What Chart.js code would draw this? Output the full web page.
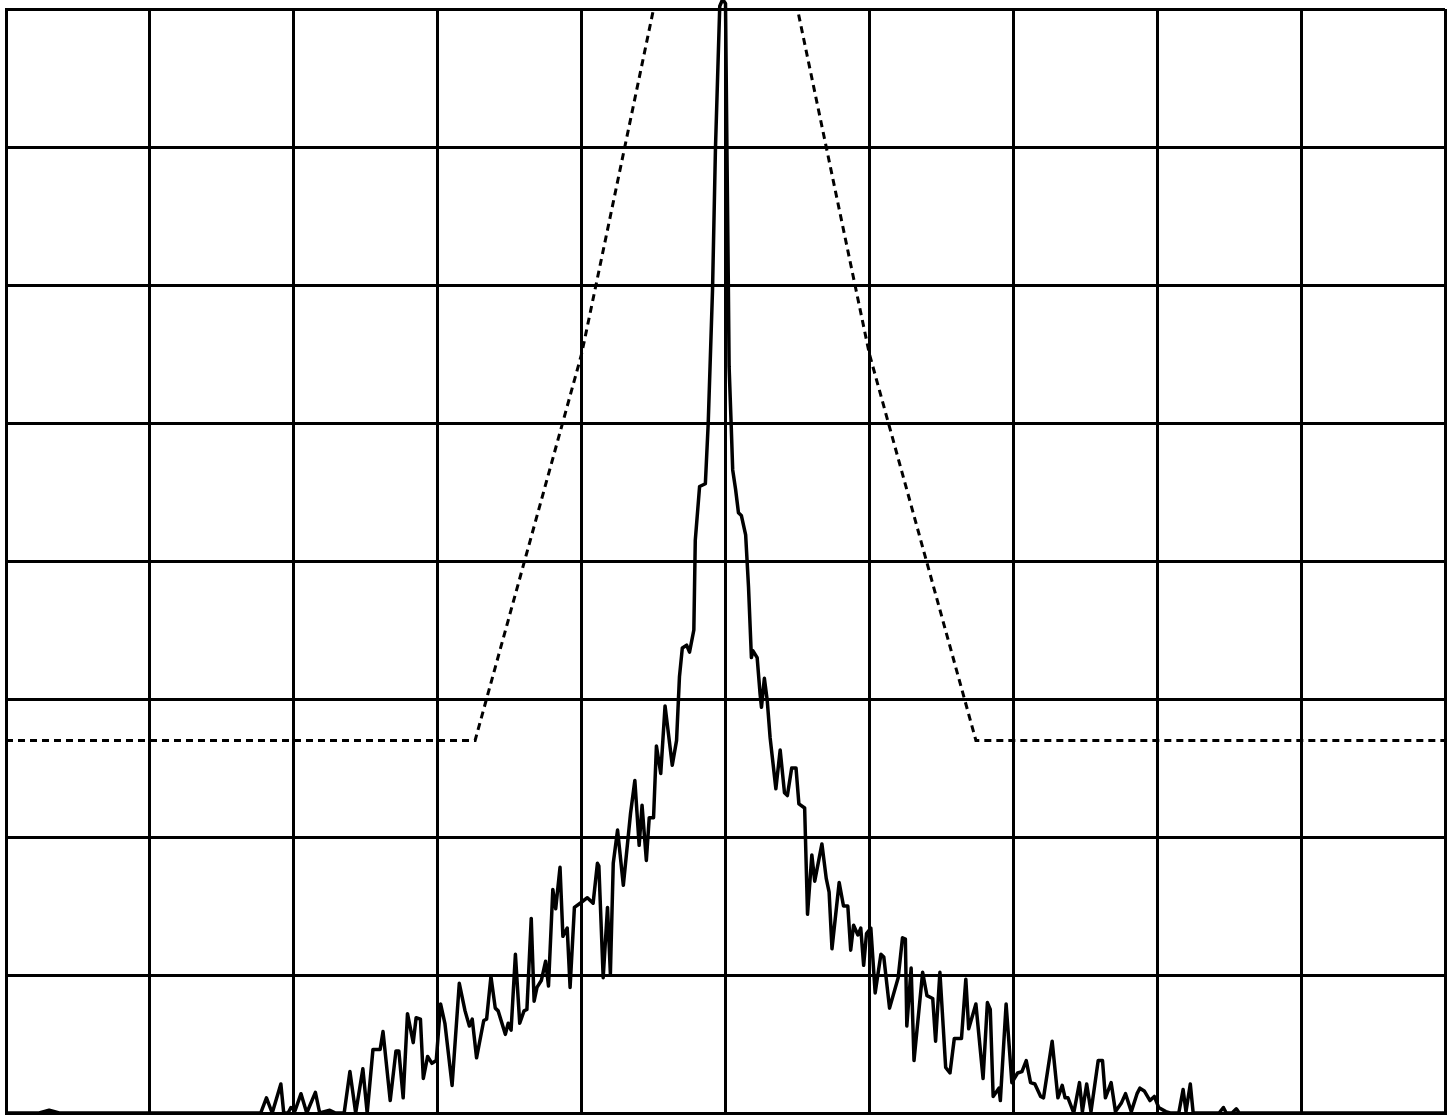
<!DOCTYPE html>
<html>
<head>
<meta charset="utf-8">
<title>Spectrum</title>
<script src="https://cdn.jsdelivr.net/npm/chart.js@4.4.1/dist/chart.umd.min.js"></script>
<style>
    html, body { margin: 0; padding: 0; background: #fff; }
    #wrap { width: 1447px; height: 1116px; }
</style>
</head>
<body>
<div id="wrap"><canvas id="spectrumChart"></canvas></div>
<script>
// frequency offset (10 per division) and level in dB (10 dB per division)
const freqTicks = [-50, -40, -30, -20, -10, 0, 10, 20, 30, 40, 50];
const levelTicks = [-80, -70, -60, -50, -40, -30, -20, -10, 0];

const traceFreq = [
    -50.0, -47.7, -47.0, -46.3, -32.3, -31.9, -31.5, -30.9, -30.7, -30.4,
    -30.2, -29.9, -29.5, -29.1, -28.5, -28.2, -27.5, -27.1, -26.5, -26.1,
    -25.7, -25.2, -24.9, -24.5, -24.0, -23.8, -23.3, -22.9, -22.7, -22.4,
    -22.1, -21.7, -21.5, -21.2, -21.0, -20.7, -20.4, -20.1, -19.8, -19.5,
    -19.0, -18.5, -18.1, -17.8, -17.6, -17.3, -16.8, -16.6, -16.3, -16.0,
    -15.8, -15.3, -15.1, -14.9, -14.6, -14.3, -14.0, -13.8, -13.5, -13.3,
    -13.1, -12.8, -12.5, -12.3, -12.0, -11.8, -11.5, -11.3, -11.0, -10.8,
    -10.5, -10.1, -9.6, -9.2, -8.9, -8.8, -8.5, -8.2, -8.0, -7.8,
    -7.5, -7.1, -6.6, -6.3, -6.0, -5.8, -5.5, -5.3, -5.0, -4.8,
    -4.5, -4.2, -3.7, -3.4, -3.2, -3.0, -2.7, -2.5, -2.2, -2.1,
    -1.8, -1.4, -1.2, -0.9, -0.7, -0.4, -0.2, 0.0, 0.1, 0.2,
    0.25, 0.4, 0.5, 0.7, 0.9, 1.1, 1.4, 1.6, 1.8, 1.9,
    2.2, 2.4, 2.5, 2.7, 2.9, 3.1, 3.5, 3.8, 4.1, 4.3,
    4.6, 4.9, 5.1, 5.5, 5.7, 6.0, 6.2, 6.7, 7.0, 7.2,
    7.4, 7.9, 8.2, 8.5, 8.7, 8.9, 9.2, 9.4, 9.6, 9.8,
    10.1, 10.4, 10.8, 11.0, 11.4, 12.0, 12.3, 12.5, 12.6, 12.9,
    13.1, 13.7, 14.0, 14.4, 14.6, 14.9, 15.3, 15.6, 15.9, 16.4,
    16.7, 16.9, 17.4, 17.9, 18.2, 18.4, 18.6, 19.0, 19.1, 19.5,
    19.9, 20.3, 20.6, 20.9, 21.2, 21.5, 21.9, 22.1, 22.7, 23.1,
    23.4, 23.6, 23.8, 24.2, 24.6, 24.8, 25.1, 25.4, 25.9, 26.2,
    26.4, 26.8, 27.1, 27.5, 27.8, 28.2, 28.6, 28.8, 29.1, 29.5,
    29.8, 30.1, 30.6, 30.9, 31.5, 31.8, 32.0, 32.3, 32.5, 34.3,
    34.6, 34.8, 35.2, 35.5, 35.7, 50.0
];
const traceLevel = [
    -80.0, -80.0, -79.8, -80.0, -80.0, -78.9, -80.0, -77.9, -80.0, -80.0,
    -79.6, -79.8, -78.6, -80.0, -78.5, -80.0, -79.8, -80.0, -80.0, -77.0,
    -80.0, -76.8, -80.0, -75.4, -75.4, -74.1, -79.1, -75.5, -75.5, -78.9,
    -72.8, -74.9, -73.1, -73.2, -77.5, -75.9, -76.4, -76.2, -72.1, -73.5,
    -78.0, -70.6, -72.6, -73.7, -73.2, -76.0, -73.3, -73.2, -70.1, -72.4,
    -72.6, -74.3, -73.5, -74.0, -68.5, -73.5, -72.6, -72.5, -65.9, -71.9,
    -70.9, -70.4, -69.0, -70.8, -63.8, -65.2, -62.2, -67.2, -66.6, -70.9,
    -65.1, -64.8, -64.4, -64.8, -61.9, -62.1, -70.2, -65.1, -69.9, -61.9,
    -59.5, -63.5, -58.3, -55.9, -60.6, -57.7, -61.7, -58.6, -58.6, -53.4,
    -55.4, -50.5, -54.8, -53.0, -48.4, -46.3, -46.1, -46.6, -45.0, -38.5,
    -34.6, -34.4, -30.0, -20.3, -10.2, 0.2, 0.7, 0.4, -10.2, -20.3,
    -25.9, -30.3, -33.4, -34.8, -36.5, -36.7, -38.1, -41.9, -47.0, -46.5,
    -47.0, -49.6, -50.6, -48.5, -50.1, -52.8, -56.5, -53.7, -56.8, -57.0,
    -55.0, -55.0, -57.6, -57.9, -65.6, -61.3, -63.2, -60.5, -63.0, -64.0,
    -68.1, -63.3, -65.0, -65.0, -68.2, -66.4, -67.1, -66.6, -69.3, -67.0,
    -66.6, -71.3, -68.5, -68.7, -72.4, -70.2, -67.3, -67.4, -73.7, -69.5,
    -76.2, -69.8, -71.5, -71.7, -74.8, -69.8, -76.7, -77.1, -74.6, -74.6,
    -70.3, -73.9, -72.1, -77.5, -72.0, -72.5, -78.8, -78.2, -79.1, -72.1,
    -77.8, -77.1, -77.0, -76.2, -77.8, -77.9, -78.8, -78.9, -74.8, -78.9,
    -78.0, -78.9, -78.9, -80.0, -77.8, -79.9, -77.9, -79.9, -76.2, -76.2,
    -78.9, -77.8, -79.9, -79.3, -78.6, -79.9, -78.6, -78.2, -78.4, -79.1,
    -78.8, -79.6, -79.9, -80.0, -80.0, -78.3, -79.9, -77.9, -80.0, -80.0,
    -79.6, -80.0, -80.0, -79.7, -80.0, -80.0
];

// limit mask (dashed)
const maskFreq = [-50, -17.4, -10, -5, -4.5, 4.5, 5, 10, 17.4, 50];
const maskLevel = [-53, -53, -25, 0, 2.5, 2.5, 0, -25, -53, -53];

function toPoints(xs, ys) {
    return xs.map((x, i) => ({ x: x, y: ys[i] }));
}

function createSpectrumChart() {
    const ctx = document.getElementById('spectrumChart').getContext('2d');
    new Chart(ctx, {
        type: 'line',
        data: {
            datasets: [{
                label: 'Trace',
                data: toPoints(traceFreq, traceLevel),
                borderColor: '#000',
                borderWidth: 3.5,
                borderJoinStyle: 'round',
                pointRadius: 0,
                tension: 0,
                clip: 10
            }, {
                label: 'Mask',
                data: toPoints(maskFreq, maskLevel),
                borderColor: '#000',
                borderWidth: 3,
                borderDash: [7, 5],
                pointRadius: 0,
                tension: 0
            }]
        },
        options: {
            responsive: true,
            maintainAspectRatio: false,
            animation: false,
            layout: {
                padding: { left: 6, top: 9, right: 2, bottom: 3 }
            },
            plugins: {
                legend: { display: false },
                tooltip: { enabled: false }
            },
            scales: {
                x: {
                    type: 'linear',
                    min: -50,
                    max: 50,
                    afterBuildTicks: (axis) => { axis.ticks = freqTicks.map(v => ({ value: v })); },
                    ticks: { display: false },
                    grid: { color: '#000', lineWidth: 3, drawTicks: false },
                    border: { color: '#000', width: 3 }
                },
                y: {
                    type: 'linear',
                    min: -80,
                    max: 0,
                    afterBuildTicks: (axis) => { axis.ticks = levelTicks.map(v => ({ value: v })); },
                    ticks: { display: false },
                    grid: { color: '#000', lineWidth: 3, drawTicks: false },
                    border: { color: '#000', width: 3 }
                }
            }
        }
    });
}

document.addEventListener('DOMContentLoaded', createSpectrumChart);
</script>
</body>
</html>
